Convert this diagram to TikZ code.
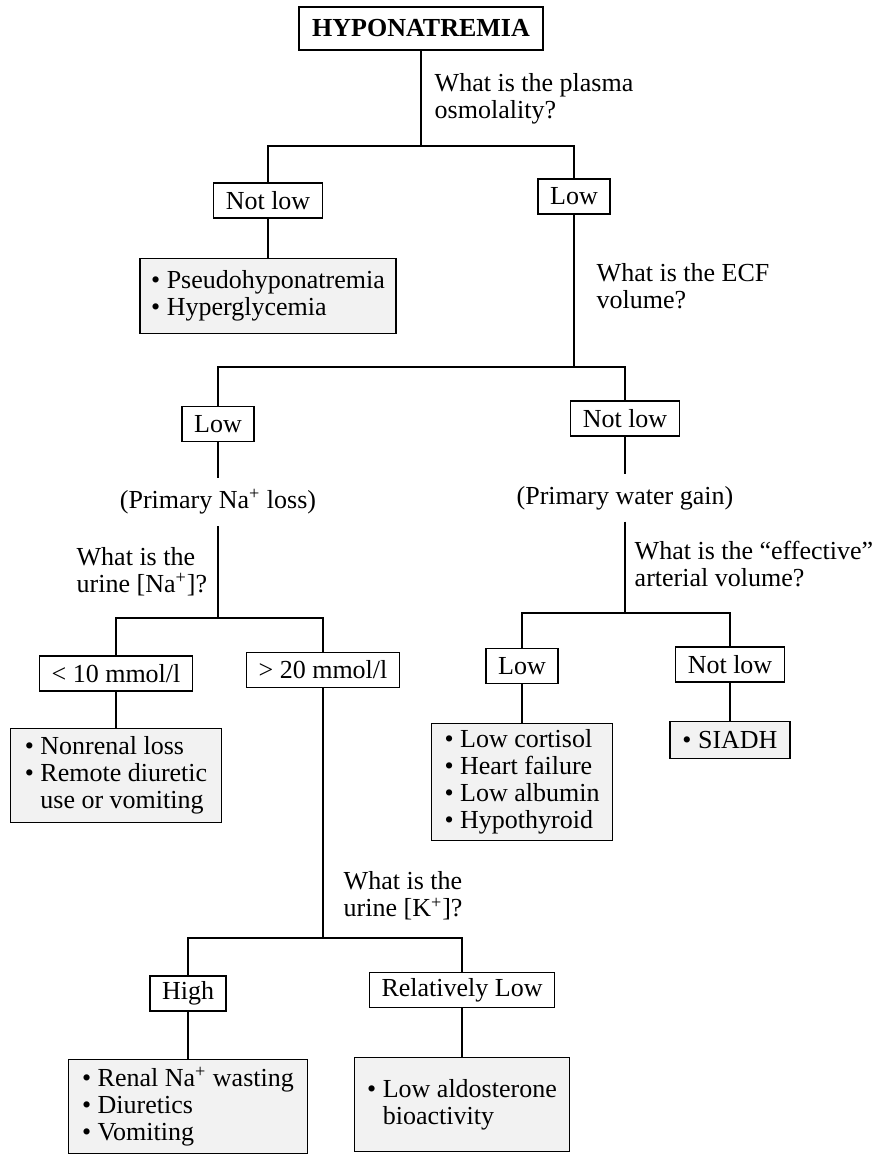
\documentclass[tikz,border=0pt]{standalone}
\usepackage{fontspec}
\setmainfont{Liberation Serif}
\usetikzlibrary{calc}

\begin{document}
\begin{tikzpicture}[x=0.5pt,y=-0.5pt,line width=0.7pt,
     every node/.style={font=\fontsize{13}{13.5}\selectfont},
     choice/.style={draw, inner xsep=6pt, inner ysep=0pt, minimum height=17.5pt},
     result/.style={draw, fill=black!5, align=left, anchor=north, inner sep=0pt},
     question/.style={align=left, anchor=west, inner sep=0pt},
     note/.style={inner xsep=0pt, inner ysep=5.5pt}]
     \useasboundingbox (0,0) rectangle (878,1154);

     \node[choice, inner xsep=6.5pt, minimum height=21.5pt, font=\fontsize{13}{13.5}\selectfont\bfseries] (hypo) at (421,28.5) {HYPONATREMIA};
     \node[question] (qosm) at (434,99) {What is the plasma\\osmolality?};
     \coordinate (s1) at (421,146);

     \node[choice] (notlowA) at (268,200.5) {Not low};
     \node[choice] (lowA) at (574,196.5) {Low};
     \node[result, minimum width=128pt, minimum height=37.5pt] (pseudo) at (268,258) {\textbullet\ Pseudohyponatremia\\\textbullet\ Hyperglycemia};
     \node[question] (qecf) at (596,286.5) {What is the ECF\\volume?};
     \coordinate (s2) at (574,367);

     \node[choice] (lowB) at (218,424) {Low};
     \node[choice] (notlowB) at (625,418.5) {Not low};
     \node[note] (naloss) at (218,502) {(Primary Na\textsuperscript{+} loss)};
     \node[note] (water) at (625,498) {(Primary water gain)};
     \node[question] (qna) at (76,571.5) {What is the\\urine [Na\textsuperscript{+}]?};
     \node[question] (qeff) at (634,564) {What is the ``effective''\\arterial volume?};
     \coordinate (s3) at (218,618);
     \coordinate (s4) at (625,613);

     \node[choice] (lt10) at (116,673.5) {< 10 mmol/l};
     \node[choice] (gt20) at (323,670) {> 20 mmol/l};
     \node[choice] (lowC) at (522,666) {Low};
     \node[choice] (notlowC) at (730,664.5) {Not low};

     \node[result, minimum width=105.5pt, minimum height=47pt] (nonrenal) at (116,728) {\textbullet\ Nonrenal loss\\\textbullet\ Remote diuretic\\\phantom{\textbullet\ }use or vomiting};
     \node[result, minimum width=90.5pt, minimum height=58.5pt] (cortisol) at (522,723) {\textbullet\ Low cortisol\\\textbullet\ Heart failure\\\textbullet\ Low albumin\\\textbullet\ Hypothyroid};
     \node[result, minimum width=60pt, minimum height=18.5pt] (siadh) at (730,721) {\textbullet\ SIADH};

     \node[question] (qk) at (343,896) {What is the\\urine [K\textsuperscript{+}]?};
     \coordinate (s5) at (323,938);

     \node[choice] (high) at (188,993.5) {High};
     \node[choice] (rellow) at (462,990) {Relatively Low};
     \node[result, minimum width=119.5pt, minimum height=47pt] (renal) at (188,1059) {\textbullet\ Renal Na\textsuperscript{+} wasting\\\textbullet\ Diuretics\\\textbullet\ Vomiting};
     \node[result, minimum width=107.5pt, minimum height=47pt] (aldo) at (462,1057) {\textbullet\ Low aldosterone\\\phantom{\textbullet\ }bioactivity};

     \draw (hypo.south) -- (s1);
     \draw (notlowA.north) |- (s1) -| (lowA.north);
     \draw (notlowA.south) -- (pseudo.north);
     \draw (lowA.south) -- (s2);
     \draw (lowB.north) |- (s2) -| (notlowB.north);
     \draw (lowB.south) -- (naloss.north);
     \draw (naloss.south) -- (s3);
     \draw (lt10.north) |- (s3) -| (gt20.north);
     \draw (lt10.south) -- (nonrenal.north);
     \draw (notlowB.south) -- (water.north);
     \draw (water.south) -- (s4);
     \draw (lowC.north) |- (s4) -| (notlowC.north);
     \draw (lowC.south) -- (cortisol.north);
     \draw (notlowC.south) -- (siadh.north);
     \draw (gt20.south) -- (s5);
     \draw (high.north) |- (s5) -| (rellow.north);
     \draw (high.south) -- (renal.north);
     \draw (rellow.south) -- (aldo.north);
\end{tikzpicture}
\end{document}
